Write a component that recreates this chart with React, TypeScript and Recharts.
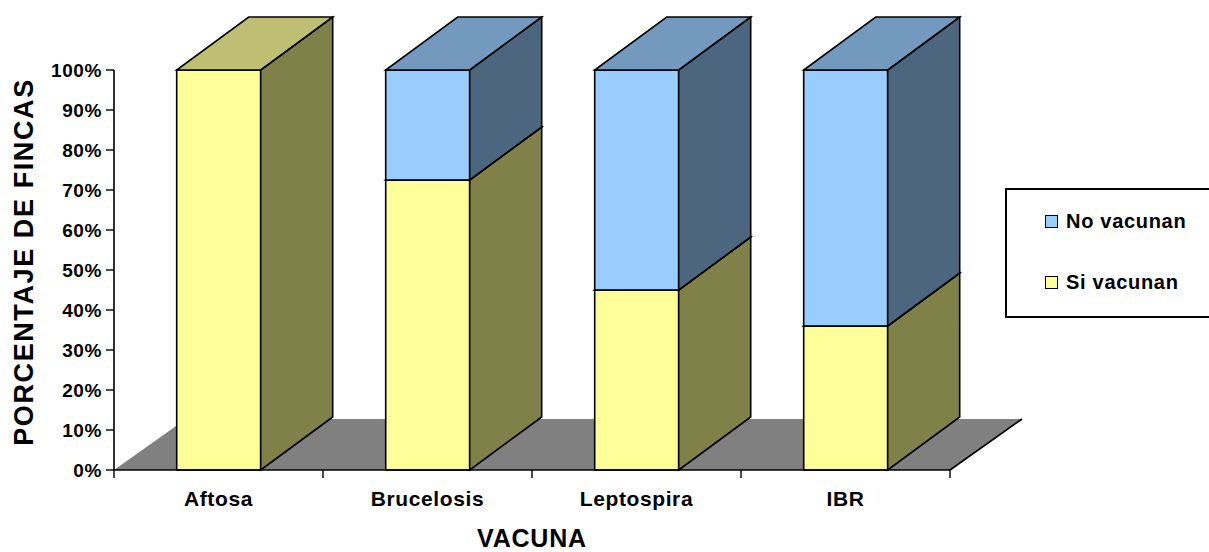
import React from 'react';
import { BarChart, Bar, XAxis, YAxis, ReferenceLine, Legend } from 'recharts';

// Vaccination coverage by vaccine (percentage of farms)
const categories = ['Aftosa', 'Brucelosis', 'Leptospira', 'IBR'];
const siVacunan = [100, 72.5, 45, 36];
const noVacunan = [0, 27.5, 55, 64];
const yTicks = [0, 10, 20, 30, 40, 50, 60, 70, 80, 90, 100];
const seriesNames = { si: 'Si vacunan', no: 'No vacunan' };
const legendOrder = ['no', 'si'];

const data = categories.map((vacuna, i) => ({
  vacuna,
  si: siVacunan[i],
  no: noVacunan[i],
}));

const FONT = "'Liberation Sans', Arial, sans-serif";
const DEPTH_X = 72;
const DEPTH_Y = 53;
const FLOOR_X = 72;
const FLOOR_Y = 51;

const palette = {
  si: { front: '#FFFF99', side: '#808049', top: '#BFBF73' },
  no: { front: '#99CCFF', side: '#4C6680', top: '#7399BF' },
};

const make3DBar = (colors: { front: string; side: string; top: string }) => (props: any) => {
  const { x, y, width, height } = props;
  if (!height || height <= 0) return <g />;
  const r = x + width;
  const b = y + height;
  return (
    <g stroke="#000" strokeWidth={1.6} strokeLinejoin="miter">
      <rect x={x} y={y} width={width} height={height} fill={colors.front} />
      <polygon
        points={`${r},${b} ${r + DEPTH_X},${b - DEPTH_Y} ${r + DEPTH_X},${y - DEPTH_Y} ${r},${y}`}
        fill={colors.side}
      />
      <polygon
        points={`${x},${y} ${r},${y} ${r + DEPTH_X},${y - DEPTH_Y} ${x + DEPTH_X},${y - DEPTH_Y}`}
        fill={colors.top}
      />
    </g>
  );
};

const Floor = (props: any) => {
  const { x1, y1, x2, y2 } = props;
  return (
    <g>
      <polygon
        points={`${x1},${y1} ${x2},${y2} ${x2 + FLOOR_X},${y2 - FLOOR_Y} ${x1 + FLOOR_X},${y1 - FLOOR_Y}`}
        fill="#808080"
        stroke="none"
      />
      <line x1={x2} y1={y2} x2={x2 + FLOOR_X} y2={y2 - FLOOR_Y} stroke="#000" strokeWidth={1.6} />
    </g>
  );
};

const CategoryTick = (props: any) => {
  const { x, y, payload, index, visibleTicksCount, width } = props;
  const half =
    payload && payload.offset ? payload.offset : width / (2 * (visibleTicksCount || categories.length));
  const isLast = index === visibleTicksCount - 1;
  return (
    <g>
      <line x1={x - half} y1={y} x2={x - half} y2={y + 8} stroke="#000" strokeWidth={1.4} />
      {isLast && <line x1={x + half} y1={y} x2={x + half} y2={y + 8} stroke="#000" strokeWidth={1.4} />}
      <text
        x={x}
        y={y + 36}
        textAnchor="middle"
        fontFamily={FONT}
        fontWeight="bold"
        fontSize={21}
        letterSpacing={0.6}
        fill="#000"
      >
        {payload.value}
      </text>
    </g>
  );
};

const YTitle = (props: any) => {
  const { viewBox } = props;
  const cx = viewBox.x + 24;
  const cy = viewBox.y + viewBox.height / 2 - 8;
  return (
    <text
      x={cx}
      y={cy}
      transform={`rotate(-90, ${cx}, ${cy})`}
      textAnchor="middle"
      dominantBaseline="central"
      fontFamily={FONT}
      fontWeight="bold"
      fontSize={27}
      letterSpacing={1.6}
      fill="#000"
    >
      PORCENTAJE DE FINCAS
    </text>
  );
};

const XTitle = (props: any) => {
  const { viewBox } = props;
  return (
    <text
      x={viewBox.x + viewBox.width / 2}
      y={viewBox.y + 77}
      textAnchor="middle"
      fontFamily={FONT}
      fontWeight="bold"
      fontSize={25}
      letterSpacing={0.8}
      fill="#000"
    >
      VACUNA
    </text>
  );
};

const LegendBox = (props: any) => {
  const payload: any[] = props.payload || [];
  const items = legendOrder
    .map((key) => payload.find((p: any) => p.dataKey === key))
    .filter(Boolean);
  return (
    <div
      style={{
        boxSizing: 'border-box',
        width: 220,
        height: 130,
        border: '2px solid #000',
        background: '#fff',
        paddingTop: 19,
        paddingLeft: 38,
        fontFamily: FONT,
        fontWeight: 'bold',
        fontSize: 20,
        letterSpacing: 0.7,
        color: '#000',
      }}
    >
      {items.map((it: any, i: number) => (
        <div
          key={it.value}
          style={{ display: 'flex', alignItems: 'center', height: 24, marginBottom: i === 0 ? 37 : 0 }}
        >
          <span
            style={{
              display: 'inline-block',
              width: 11,
              height: 11,
              border: '1.5px solid #000',
              background: it.color,
              marginRight: 8,
            }}
          />
          <span>{it.value}</span>
        </div>
      ))}
    </div>
  );
};

export default function App() {
  return (
    <div style={{ position: 'absolute', left: 0, top: 0, background: '#fff' }}>
      <BarChart
        width={1209}
        height={552}
        data={data}
        margin={{ top: 70, right: 259, bottom: 0, left: 0 }}
        barCategoryGap="30%"
      >
        <ReferenceLine y={0} shape={<Floor />} ifOverflow="visible" zIndex={-10} />
        <XAxis
          dataKey="vacuna"
          height={82}
          axisLine={{ stroke: '#000', strokeWidth: 1.6 }}
          tickLine={false}
          tickSize={0}
          tickMargin={0}
          tick={<CategoryTick />}
          interval={0}
          label={<XTitle />}
        />
        <YAxis
          width={114}
          domain={[0, 100]}
          ticks={yTicks}
          interval={0}
          tickFormatter={(v: number) => `${v}%`}
          axisLine={{ stroke: '#000', strokeWidth: 1.6 }}
          tickLine={{ stroke: '#000', strokeWidth: 1.4 }}
          tickSize={8}
          tickMargin={4}
          tick={{ fill: '#000', fontFamily: FONT, fontWeight: 'bold', fontSize: 19, letterSpacing: 0.6 }}
          label={<YTitle />}
        />
        <Legend
          layout="horizontal"
          verticalAlign="middle"
          align="center"
          wrapperStyle={{ position: 'absolute', left: 1005, top: 188, width: 220, height: 130 }}
          content={<LegendBox />}
        />
        <Bar
          dataKey="si"
          name={seriesNames.si}
          stackId="v"
          fill={palette.si.front}
          isAnimationActive={false}
          shape={make3DBar(palette.si)}
        />
        <Bar
          dataKey="no"
          name={seriesNames.no}
          stackId="v"
          fill={palette.no.front}
          isAnimationActive={false}
          shape={make3DBar(palette.no)}
        />
      </BarChart>
    </div>
  );
}
